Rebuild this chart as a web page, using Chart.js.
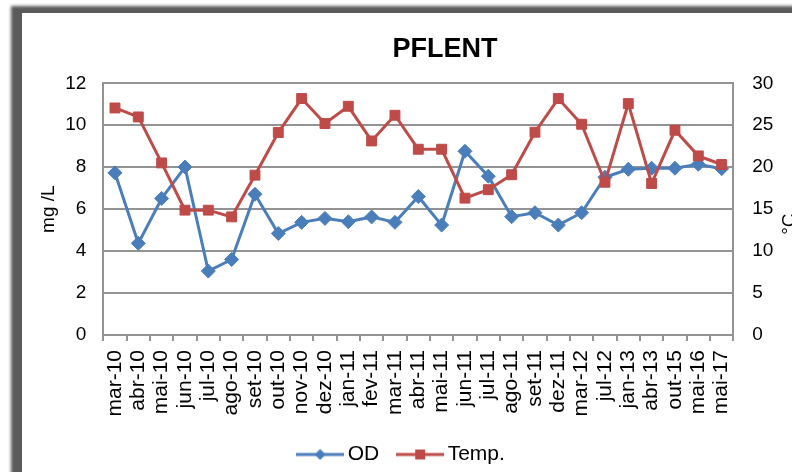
<!DOCTYPE html>
<html>
<head>
<meta charset="utf-8">
<script src="https://cdn.jsdelivr.net/npm/chart.js@4.4.1/dist/chart.umd.min.js"></script>
<style>
  html, body { margin: 0; padding: 0; background: #fff; }
  body { width: 792px; height: 472px; overflow: hidden; position: relative; }
  #frame {
    position: absolute; left: 22px; top: 13px; width: 900px; height: 600px;
    background: #fff; box-shadow: -6px -2px 3px 5px #5a5a5a;
  }
  #chart { position: absolute; left: 0; top: 0; }
</style>
</head>
<body>
<div id="frame"><canvas id="chart" width="800" height="462"></canvas></div>
<script>
// Sampling dates
const categories = ['mar-10', 'abr-10', 'mai-10', 'jun-10', 'jul-10', 'ago-10', 'set-10', 'out-10',
  'nov-10', 'dez-10', 'jan-11', 'fev-11', 'mar-11', 'abr-11', 'mai-11', 'jun-11', 'jul-11',
  'ago-11', 'set-11', 'dez-11', 'mar-12', 'jul-12', 'jan-13', 'abr-13', 'out-15', 'mai-16', 'mai-17'];

// Dissolved oxygen (mg/L)
const odValues = [7.73, 4.37, 6.51, 8.01, 3.05, 3.60, 6.71, 4.84, 5.37, 5.56, 5.40, 5.63, 5.37,
  6.60, 5.24, 8.76, 7.57, 5.64, 5.83, 5.24, 5.83, 7.52, 7.90, 7.95, 7.95, 8.14, 7.93];

// Water temperature (°C)
const tempValues = [27.06, 25.99, 20.51, 14.88, 14.88, 14.08, 19.05, 24.13, 28.18, 25.20, 27.26,
  23.13, 26.19, 22.14, 22.14, 16.31, 17.32, 19.10, 24.17, 28.18, 25.12, 18.21, 27.58, 18.06,
  24.40, 21.35, 20.32];

const seriesNames = ['OD', 'Temp.'];
const leftTicks = [0, 2, 4, 6, 8, 10, 12];
const rightTicks = [0, 5, 10, 15, 20, 25, 30];

const FONT = "'Liberation Sans', Arial, sans-serif";
const BLUE = '#4a7ebb';
const RED = '#be4b48';
const GRID = '#939393';

Chart.defaults.font.family = FONT;
Chart.defaults.color = '#000';

// Legend symbols: a short line with the series marker on it
function legendSymbol(color, marker) {
  const c = document.createElement('canvas');
  c.width = 48; c.height = 16;
  const g = c.getContext('2d');
  g.strokeStyle = color; g.fillStyle = color; g.lineWidth = 3;
  g.beginPath(); g.moveTo(0, 8); g.lineTo(48, 8); g.stroke();
  g.beginPath();
  if (marker === 'diamond') {
    g.moveTo(24, 2.5); g.lineTo(29.5, 8); g.lineTo(24, 13.5); g.lineTo(18.5, 8);
  } else {
    g.rect(19, 3, 10, 10);
  }
  g.closePath(); g.fill();
  return c;
}

// Shift the title and legend boxes sideways after layout
const boxNudge = {
  id: 'boxNudge',
  afterLayout(chart, args, opts) {
    const move = (box, dx) => { if (box) { box.left += dx; box.right += dx; } };
    move(chart.titleBlock, opts.title || 0);
    move(chart.legend, opts.legend || 0);
  }
};

// Right axis caption, read bottom-to-top like the left one
const sideTitle = {
  id: 'sideTitle',
  afterDraw(chart, args, opts) {
    const s = chart.scales.y2;
    const ctx = chart.ctx;
    ctx.save();
    ctx.font = '19px ' + FONT;
    ctx.fillStyle = '#000';
    ctx.textAlign = 'center';
    ctx.textBaseline = 'alphabetic';
    ctx.translate(s.left + opts.offset, (s.top + s.bottom) / 2 + opts.shift);
    ctx.rotate(-Math.PI / 2);
    ctx.fillText(opts.text, 0, 0);
    ctx.restore();
  }
};

new Chart(document.getElementById('chart'), {
  type: 'line',
  data: {
    labels: categories,
    datasets: [
      {
        label: seriesNames[0], data: odValues, yAxisID: 'y', order: 1,
        borderColor: BLUE, backgroundColor: BLUE, borderWidth: 3, tension: 0,
        pointStyle: 'rectRot', pointRadius: 7, pointBorderWidth: 1,
        pointBackgroundColor: BLUE, pointBorderColor: BLUE
      },
      {
        label: seriesNames[1], data: tempValues, yAxisID: 'y2', order: 0,
        borderColor: RED, backgroundColor: RED, borderWidth: 3, tension: 0,
        pointStyle: 'rect', pointRadius: 7, pointBorderWidth: 1,
        pointBackgroundColor: RED, pointBorderColor: RED
      }
    ]
  },
  options: {
    responsive: false,
    animation: false,
    events: [],
    devicePixelRatio: 1,
    layout: { padding: 0 },
    scales: {
      x: {
        type: 'category',
        offset: true,
        grid: { offset: true, drawOnChartArea: false, drawTicks: true, tickLength: 6, color: GRID, lineWidth: 2 },
        border: { display: true, color: GRID, width: 2 },
        ticks: { autoSkip: false, minRotation: 90, maxRotation: 90, padding: 9, font: { size: 21 }, color: '#000' },
        afterFit: (s) => { s.height = 85; }
      },
      y: {
        position: 'left',
        min: leftTicks[0], max: leftTicks[leftTicks.length - 1],
        ticks: { stepSize: leftTicks[1] - leftTicks[0], padding: 17, font: { size: 19 }, color: '#000' },
        grid: { color: GRID, lineWidth: 2, drawTicks: false },
        border: { display: true, color: GRID, width: 2 },
        title: { display: true, text: 'mg /L', font: { size: 19 }, color: '#000', padding: { top: 15, bottom: 0 } },
        afterFit: (s) => { s.width = 81.3; }
      },
      y2: {
        position: 'right',
        min: rightTicks[0], max: rightTicks[rightTicks.length - 1],
        ticks: { stepSize: rightTicks[1] - rightTicks[0], padding: 19, font: { size: 19 }, color: '#000' },
        grid: { drawOnChartArea: false, drawTicks: false },
        border: { display: true, color: GRID, width: 2 },
        afterFit: (s) => { s.width = 88.7; }
      }
    },
    plugins: {
      title: {
        display: true, text: 'PFLENT', color: '#000',
        font: { size: 27, weight: 'bold' },
        padding: { top: 20, bottom: 17.9 }
      },
      legend: {
        display: true, position: 'bottom',
        labels: {
          usePointStyle: true, pointStyleWidth: 34, padding: 24,
          font: { size: 21 }, color: '#000',
          generateLabels: () => [
            { text: seriesNames[0], pointStyle: legendSymbol(BLUE, 'diamond'), fillStyle: BLUE, strokeStyle: BLUE, lineWidth: 0, hidden: false, datasetIndex: 0, fontColor: '#000' },
            { text: seriesNames[1], pointStyle: legendSymbol(RED, 'square'), fillStyle: RED, strokeStyle: RED, lineWidth: 0, hidden: false, datasetIndex: 1, fontColor: '#000' }
          ]
        }
      },
      tooltip: { enabled: false },
      boxNudge: { title: 23, legend: -18 },
      sideTitle: { text: '°C', offset: 62, shift: 15 }
    }
  },
  plugins: [boxNudge, sideTitle]
});
</script>
</body>
</html>
